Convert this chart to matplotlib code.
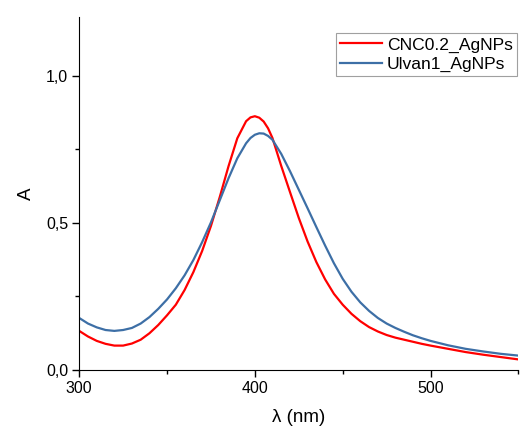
import matplotlib.pyplot as plt
from matplotlib.ticker import FuncFormatter, MultipleLocator

plt.rcParams['font.family'] = ['Liberation Sans', 'DejaVu Sans']

# wavelength (nm) and absorbance
wavelength = [300, 305, 310, 315, 320, 325, 330, 335, 340, 345, 350, 355, 360,
              365, 370, 375, 380, 385, 390, 395, 397.5, 400, 402.5, 405, 407.5,
              410, 415, 420, 425, 430, 435, 440, 445, 450, 455, 460, 465, 470,
              475, 480, 485, 490, 495, 500, 510, 520, 530, 540, 550]
a_cnc = [0.133, 0.114, 0.099, 0.089, 0.083, 0.083, 0.090, 0.103, 0.125,
         0.153, 0.186, 0.222, 0.272, 0.333, 0.405, 0.490, 0.588, 0.693,
         0.788, 0.846, 0.859, 0.863, 0.858, 0.845, 0.822, 0.789, 0.694,
         0.605, 0.517, 0.437, 0.367, 0.308, 0.259, 0.222, 0.191, 0.166,
         0.146, 0.131, 0.119, 0.110, 0.103, 0.096, 0.089, 0.083, 0.072,
         0.061, 0.052, 0.044, 0.036]
a_ulvan = [0.177, 0.158, 0.145, 0.136, 0.133, 0.136, 0.143, 0.158, 0.180,
           0.208, 0.240, 0.278, 0.322, 0.374, 0.435, 0.502, 0.577, 0.652,
           0.720, 0.771, 0.789, 0.800, 0.805, 0.804, 0.796, 0.783, 0.735,
           0.676, 0.613, 0.550, 0.486, 0.423, 0.363, 0.310, 0.266, 0.230,
           0.201, 0.177, 0.158, 0.143, 0.130, 0.118, 0.108, 0.099, 0.084,
           0.072, 0.063, 0.055, 0.049]

fig = plt.figure(figsize=(5.21, 4.28), dpi=100)
ax = fig.add_axes([0.152, 0.1355, 0.843, 0.8245])

ax.plot(wavelength, a_cnc, color='#ff0000', lw=1.6, label='CNC0.2_AgNPs')
ax.plot(wavelength, a_ulvan, color='#3d6fa6', lw=1.6, label='Ulvan1_AgNPs')

ax.set_xlim(300, 550)
ax.set_ylim(0, 1.2)
ax.xaxis.set_major_locator(MultipleLocator(100))
ax.xaxis.set_minor_locator(MultipleLocator(50))
ax.yaxis.set_major_locator(MultipleLocator(0.5))
ax.yaxis.set_minor_locator(MultipleLocator(0.25))
ax.yaxis.set_major_formatter(FuncFormatter(lambda v, p: f'{v:.1f}'.replace('.', ',')))

for s in ['top', 'right']:
    ax.spines[s].set_visible(False)
ax.tick_params(which='major', direction='out', length=5, width=1, labelsize=11.5, pad=3)
ax.tick_params(which='minor', direction='out', length=3, width=1)

ax.set_xlabel('λ (nm)', fontsize=13.5, labelpad=9)
ax.set_ylabel('A', fontsize=13.5, labelpad=8)

leg = ax.legend(loc='upper right', bbox_to_anchor=(0.997, 0.955), fontsize=12.6,
                frameon=True, fancybox=False, handlelength=2.4,
                borderpad=0.25, labelspacing=0.22, handletextpad=0.25,
                borderaxespad=0.0)
leg.get_frame().set_edgecolor('#888888')
leg.get_frame().set_linewidth(0.8)

fig.savefig('out.png', dpi=100)
